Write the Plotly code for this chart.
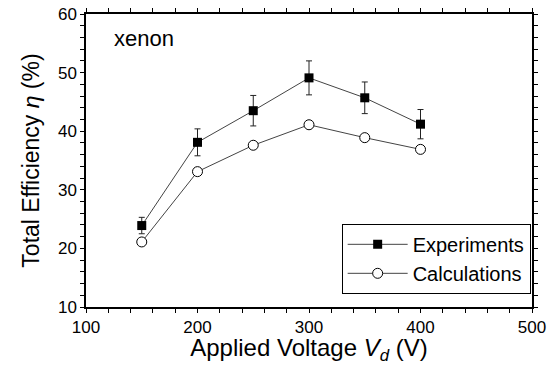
import plotly.graph_objects as go

voltage = [150, 200, 250, 300, 350, 400]
experiments = [23.9, 38.1, 43.5, 49.1, 45.7, 41.2]
exp_error = [1.4, 2.3, 2.6, 2.9, 2.7, 2.5]
calculations = [21.1, 33.1, 37.6, 41.1, 38.9, 36.9]

x_major_ticks = [100, 200, 300, 400, 500]
y_major_ticks = [10, 20, 30, 40, 50, 60]
x_all_ticks = list(range(100, 501, 20))
y_all_ticks = list(range(10, 61, 2))

x_ticktext = [str(v) if v in x_major_ticks else "" for v in x_all_ticks]
y_ticktext = [str(v) if v in y_major_ticks else "" for v in y_all_ticks]

FONT = "Liberation Sans, Arial, sans-serif"
line_col = "#444444"

fig = go.Figure()
fig.add_trace(go.Scatter(
    x=voltage, y=experiments, mode="lines+markers", name="Experiments",
    line=dict(color=line_col, width=1),
    marker=dict(symbol="square", size=9, color="black", line=dict(width=0)),
    error_y=dict(type="data", array=exp_error, visible=True, color="#222222",
                 thickness=1, width=3),
))
fig.add_trace(go.Scatter(
    x=voltage, y=calculations, mode="lines+markers", name="Calculations",
    line=dict(color=line_col, width=1),
    marker=dict(symbol="circle", size=10, color="white", line=dict(color="black", width=1)),
))

axis_common = dict(showline=True, linecolor="black", linewidth=1.5, showgrid=False,
                   zeroline=False, tickcolor="black", tickwidth=1, ticklen=4,
                   ticks="outside", mirror="ticks", automargin=False)

fig.update_layout(
    width=560, height=365,
    margin=dict(l=86, r=28, t=14, b=58),
    paper_bgcolor="white", plot_bgcolor="white",
    font=dict(family=FONT, color="black", size=16),
    showlegend=True,
    xaxis=dict(range=[100, 500], tickmode="array", tickvals=x_all_ticks,
               ticktext=x_ticktext, tickfont=dict(size=17),
               title=dict(text="Applied Voltage <i>V</i><sub><i>d</i></sub> (V)",
                          font=dict(size=24), standoff=6),
               **axis_common),
    yaxis=dict(range=[10, 60], tickmode="array", tickvals=y_all_ticks,
               ticktext=y_ticktext, tickfont=dict(size=17),
               title=dict(text="Total Efficiency <i>η</i> (%)",
                          font=dict(size=23), standoff=12),
               **axis_common),
    legend=dict(x=0.997, xanchor="right", y=0.045, yanchor="bottom",
                bgcolor="white", bordercolor="black", borderwidth=1,
                font=dict(size=20), itemwidth=60, tracegroupgap=0),
    annotations=[dict(text="xenon", xref="paper", yref="paper", x=0.058, y=0.915,
                      xanchor="left", yanchor="middle", showarrow=False,
                      font=dict(size=22))],
)

fig.write_html("out.html")
